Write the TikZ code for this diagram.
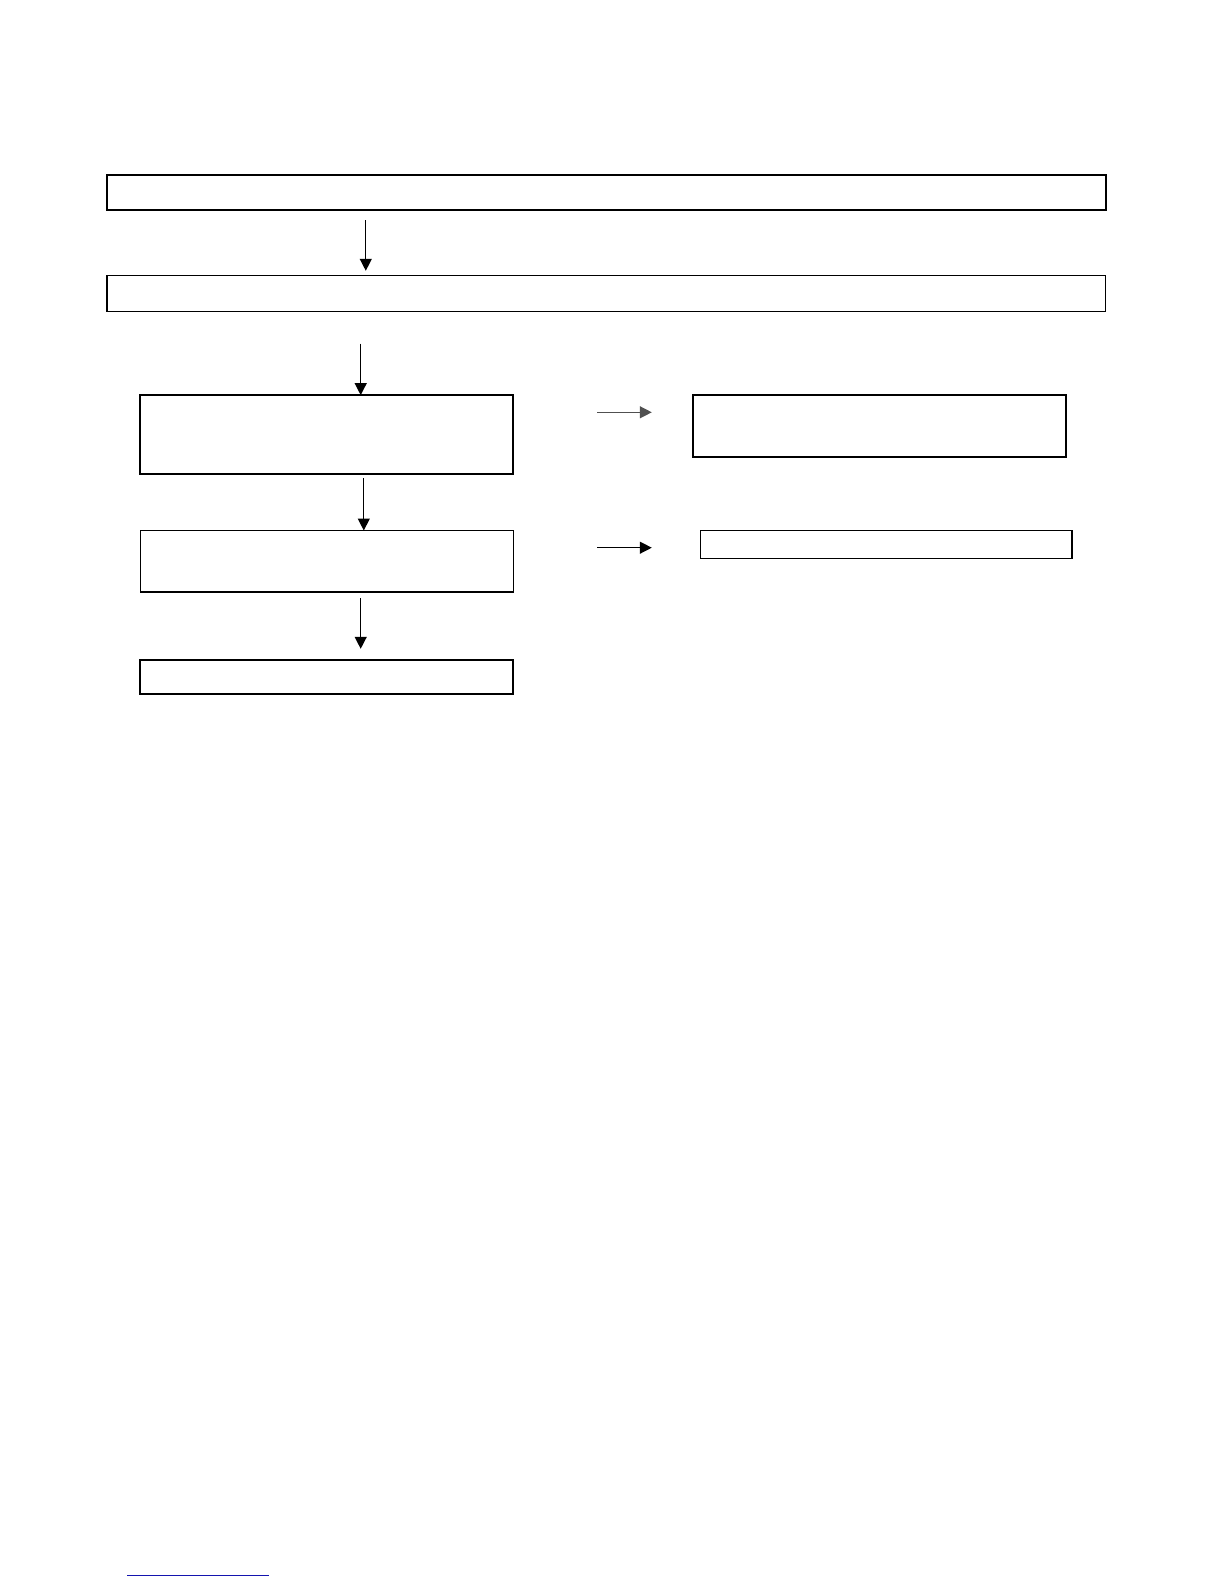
\documentclass[tikz,border=0pt]{standalone}
\usepackage{tikz}
\usetikzlibrary{arrows.meta}
\definecolor{linkblue}{RGB}{20,20,175}
\definecolor{arrgray}{RGB}{80,80,80}
\tikzset{
  box/.style={draw, rectangle, inner sep=0pt, outer sep=0pt, line width=1bp},
  thinbox/.style={box, line width=0.65bp},
  flow/.style={line width=0.65bp, -{Triangle[length=6bp,width=6bp]}},
}
\begin{document}
\begin{tikzpicture}[x=0.5bp, y=-0.5bp]
	\useasboundingbox (0,0) rectangle (1224,1584);
	% main column
	\node[box, minimum width=499.2bp, minimum height=17.7bp] (step1) at (606.3,192.5) {};
	\node[thinbox, minimum width=499.2bp, minimum height=17.7bp] (step2) at (606.3,293.5) {};
	\node[box, minimum width=186.4bp, minimum height=39.4bp] (step3) at (326.9,434.5) {};
	\node[thinbox, minimum width=186.4bp, minimum height=30.8bp] (step4) at (326.9,561.3) {};
	\node[box, minimum width=186.4bp, minimum height=17.2bp] (step5) at (326.9,677) {};
	% side boxes
	\node[box, minimum width=186.4bp, minimum height=30.8bp] (side1) at (879.6,425.9) {};
	\node[thinbox, minimum width=185.9bp, minimum height=14.1bp] (side2) at (886.2,544.7) {};
	% arrow ends
	\coordinate (a1) at (365.8,220.3);
	\coordinate (b1) at (365.8,270.8);
	\coordinate (a2) at (360.7,343.6);
	\coordinate (a3) at (363.8,478);
	\coordinate (a4) at (360.7,598.2);
	\coordinate (b4) at (360.7,648.8);
	\coordinate (s1) at (597.2,412.3);
	\coordinate (t1) at (651.8,412.3);
	\coordinate (s2) at (597.2,547.7);
	\coordinate (t2) at (651.8,547.7);
	\draw[flow] (a1) -- (b1);
	\draw[flow] (a2) -- (a2 |- step3.north);
	\draw[flow] (a3) -- (a3 |- step4.north);
	\draw[flow] (a4) -- (b4);
	\draw[flow, arrgray] (s1) -- (t1);
	\draw[flow] (s2) -- (t2);
	% footer rule
	\draw[linkblue, line width=0.6bp] (127.3,1575.4) -- (268.8,1575.4);
\end{tikzpicture}
\end{document}
